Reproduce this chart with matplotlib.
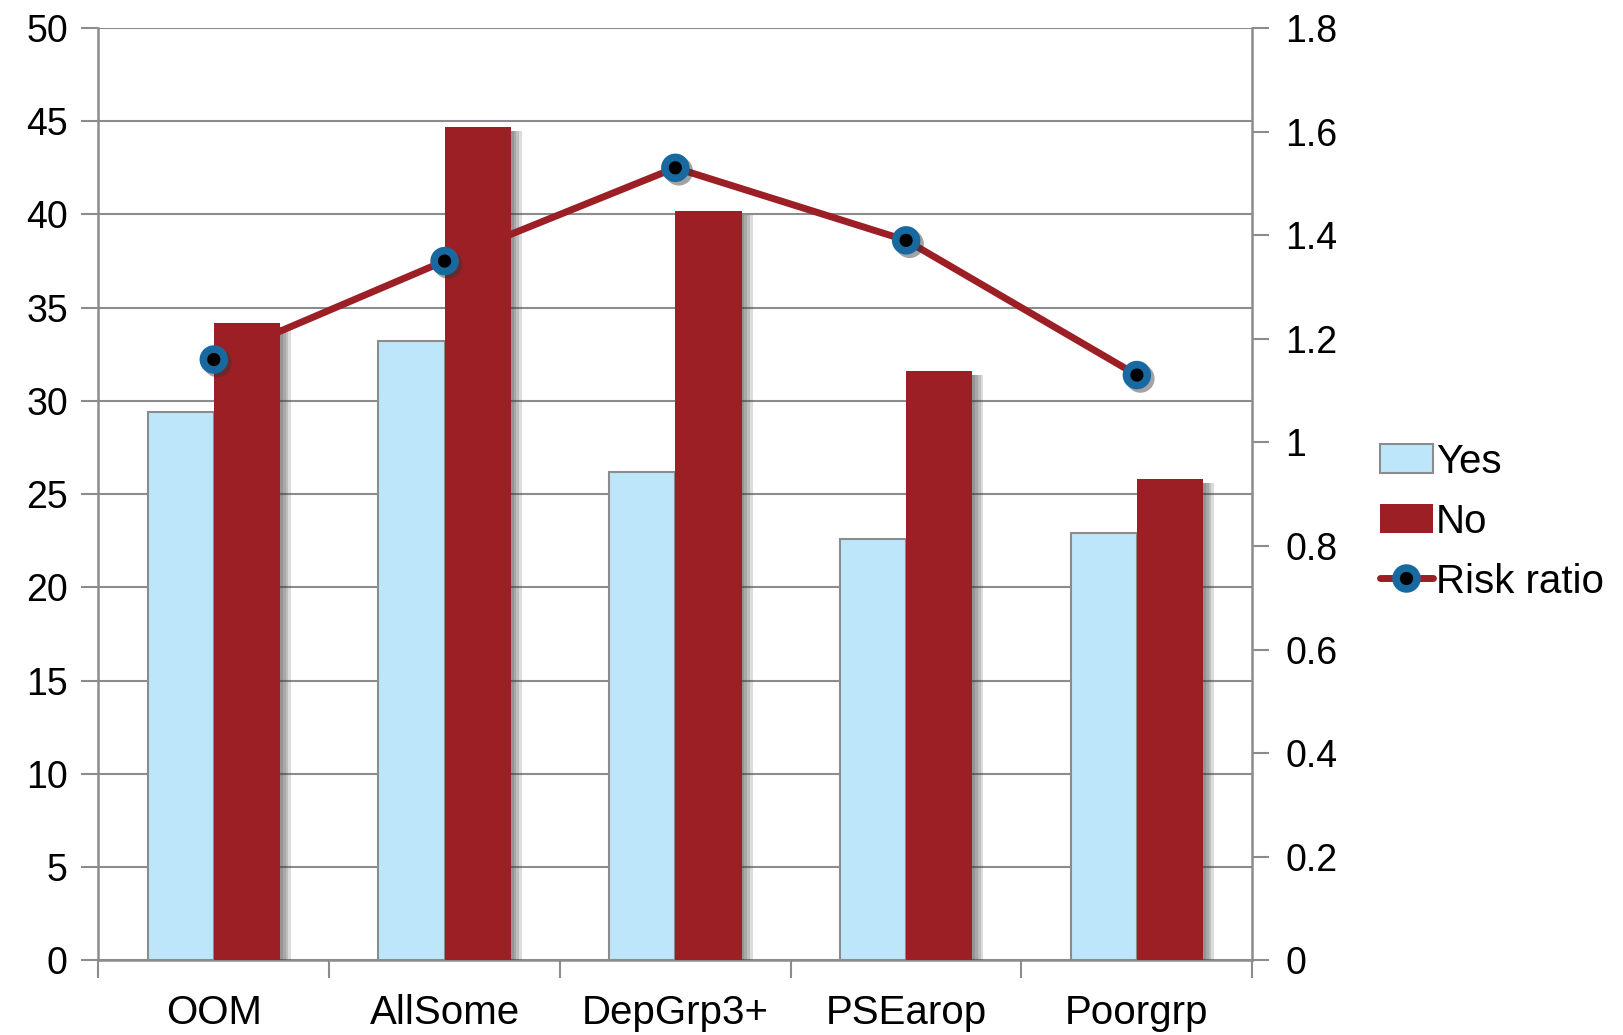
import matplotlib
matplotlib.use("Agg")
import matplotlib.pyplot as plt
import matplotlib.patheffects as pe
from matplotlib.lines import Line2D
from matplotlib.patches import Patch
import numpy as np

categories = ["OOM", "AllSome", "DepGrp3+", "PSEarop", "Poorgrp"]
yes_vals = [29.4, 33.2, 26.2, 22.6, 22.9]
no_vals = [34.2, 44.7, 40.2, 31.6, 25.8]
risk_ratio = [1.16, 1.35, 1.53, 1.39, 1.13]

left_ticks = [0, 5, 10, 15, 20, 25, 30, 35, 40, 45, 50]
right_ticks = [0, 0.2, 0.4, 0.6, 0.8, 1, 1.2, 1.4, 1.6, 1.8]
right_labels = ["0", "0.2", "0.4", "0.6", "0.8", "1", "1.2", "1.4", "1.6", "1.8"]

YES_COLOR = "#bde6fb"
NO_COLOR = "#9b1f24"
RING_COLOR = "#1769a0"
GRID = "#8c8c8c"

plt.rcParams["font.family"] = ["Liberation Sans", "DejaVu Sans"]

fig = plt.figure(figsize=(16.24, 10.35), dpi=100)
ax = fig.add_axes([0.0606, 0.072, 0.7105, 0.901])
ax2 = ax.twinx()

x = np.arange(len(categories))
w = 0.287

# soft shadow to the right of the dark bars
bar_shadow = [pe.SimplePatchShadow(offset=(d, -3), shadow_rgbFace="#404040", alpha=0.18)
              for d in (8, 6, 4, 2)] + [pe.Normal()]

ax.bar(x - w / 2, yes_vals, w, color=YES_COLOR, edgecolor=GRID, linewidth=1.5, zorder=3)
ax.bar(x + w / 2, no_vals, w, color=NO_COLOR, edgecolor="none", zorder=3, path_effects=bar_shadow)

ax.set_xlim(-0.5, len(categories) - 0.5)
ax.set_ylim(0, 50)
ax.set_yticks(left_ticks)
ax.set_yticklabels([str(t) for t in left_ticks])
ax.yaxis.grid(True, color=GRID, linewidth=1.5, zorder=0)
ax.set_axisbelow(True)

ax.set_xticks(x)
ax.set_xticklabels(categories)
ax.set_xticks(np.arange(len(categories) + 1) - 0.5, minor=True)
ax.tick_params(axis="x", which="major", length=0, labelsize=29, pad=24)
ax.tick_params(axis="x", which="minor", length=13, width=1.5, color=GRID, direction="out")
ax.tick_params(axis="y", length=12, width=1.5, color=GRID, labelsize=27, pad=10, direction="out")

for side in ["top", "right"]:
    ax.spines[side].set_visible(False)
for side in ["left", "bottom"]:
    ax.spines[side].set_color(GRID)
    ax.spines[side].set_linewidth(1.8)

ax2.set_ylim(0, 1.8)
ax2.set_yticks(right_ticks)
ax2.set_yticklabels(right_labels)
ax2.tick_params(axis="y", length=12, width=1.5, color=GRID, labelsize=27, pad=12, direction="out")
for side in ["top", "left", "bottom"]:
    ax2.spines[side].set_visible(False)
ax2.spines["right"].set_color(GRID)
ax2.spines["right"].set_linewidth(1.8)

ax2.plot(x, risk_ratio, color=NO_COLOR, linewidth=5, solid_capstyle="round", zorder=4)
ax2.plot(x, risk_ratio, linestyle="none", marker="o", markersize=15,
         markerfacecolor="black", markeredgecolor=RING_COLOR, markeredgewidth=5.5, zorder=5,
         path_effects=[pe.SimpleLineShadow(offset=(2.5, -2.5), shadow_color="#333333", alpha=0.45), pe.Normal()])

handles = [
    Patch(facecolor=YES_COLOR, edgecolor=GRID, linewidth=1.5),
    Patch(facecolor=NO_COLOR, edgecolor="none"),
    Line2D([0], [0], color=NO_COLOR, linewidth=5, solid_capstyle="round", marker="o", markersize=15,
           markerfacecolor="black", markeredgecolor=RING_COLOR, markeredgewidth=5.5),
]
fig.legend(handles, ["Yes", "No", "Risk ratio"], loc="upper left",
           bbox_to_anchor=(0.84, 0.588), frameon=False, fontsize=29,
           handlelength=1.3, handleheight=0.75, handletextpad=0.08, labelspacing=0.55,
           borderaxespad=0)

fig.savefig("out.png", dpi=100)
